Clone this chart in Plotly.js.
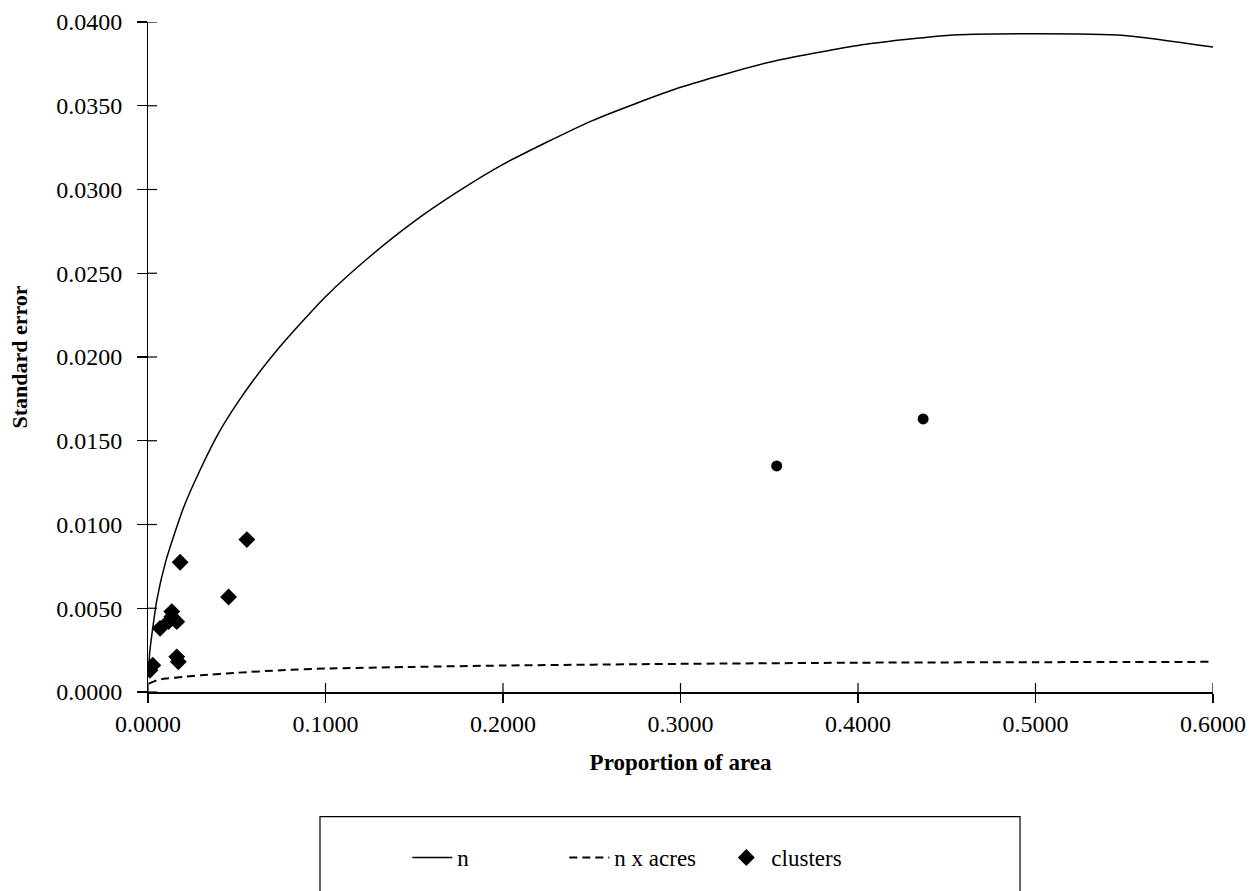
<!DOCTYPE html>
<html>
<head>
<meta charset="utf-8">
<script src="https://cdn.plot.ly/plotly-3.0.1.min.js"></script>
<style>html,body{margin:0;padding:0;background:#fff;}#chart{width:1253px;height:891px;}</style>
</head>
<body>
<div id="chart"></div>
<script>
// "n" curve
const nProp = [0.0005, 0.001, 0.005, 0.01, 0.02, 0.03, 0.04, 0.05, 0.06, 0.075, 0.1, 0.125, 0.15, 0.175, 0.2, 0.25, 0.3, 0.35, 0.4, 0.45, 0.5, 0.55, 0.6];
const nSE   = [0.0015, 0.0024, 0.0055, 0.0078, 0.0110, 0.0134, 0.0155, 0.0172, 0.0187, 0.0207, 0.0236, 0.0260, 0.0281, 0.0299, 0.0315, 0.0341, 0.0361, 0.0376, 0.0386, 0.0392, 0.0393, 0.0392, 0.0385];

// "n x acres" curve
const acresProp = [0.0005, 0.005, 0.01, 0.02, 0.03, 0.05, 0.075, 0.1, 0.15, 0.2, 0.3, 0.4, 0.5, 0.6];
const acresSE   = [0.0005, 0.0007, 0.0008, 0.0009, 0.0010, 0.00115, 0.0013, 0.0014, 0.0015, 0.00158, 0.00168, 0.00175, 0.00178, 0.0018];

// clusters
const clusterProp = [0.0557, 0.0181, 0.0454, 0.0134, 0.0068, 0.0115, 0.0162, 0.0134, 0.0162, 0.0171, 0.0027, 0.0011];
const clusterSE   = [0.0091, 0.00775, 0.00567, 0.0048, 0.0038, 0.0042, 0.0042, 0.0045, 0.0021, 0.0018, 0.0016, 0.0013];
const clusterRoundProp = [0.3542, 0.4367];
const clusterRoundSE   = [0.0135, 0.0163];

const xTicks = [0, 0.1, 0.2, 0.3, 0.4, 0.5, 0.6];
const yTicks = [0, 0.005, 0.01, 0.015, 0.02, 0.025, 0.03, 0.035, 0.04];

const serif = '"Liberation Serif", "Times New Roman", serif';

const traces = [
  {x: nProp, y: nSE, name: 'n', mode: 'lines', line: {color: '#000', width: 1.5, shape: 'spline', smoothing: 0.6}, type: 'scatter'},
  {x: acresProp, y: acresSE, name: 'n x acres', mode: 'lines', line: {color: '#000', width: 2, dash: '8px,5px', shape: 'spline', smoothing: 0.6}, type: 'scatter'},
  {x: clusterProp, y: clusterSE, name: 'clusters', mode: 'markers', marker: {symbol: 'diamond', size: 13, color: '#000'}, type: 'scatter'},
  {x: clusterRoundProp, y: clusterRoundSE, name: 'clusters', mode: 'markers', marker: {symbol: 'circle', size: 11, color: '#000'}, showlegend: false, type: 'scatter'}
];

// inner halves of the crossing tick marks (the axes draw the outer halves)
const PLOT_W = 1253 - 148 - 40, PLOT_H = 891 - 22 - 196;
const tickShapes = [];
xTicks.forEach(v => tickShapes.push({type: 'line', xref: 'x', yref: 'paper', x0: v, x1: v, y0: 0, y1: 9 / PLOT_H, line: {color: '#000', width: 1.2}}));
yTicks.forEach(v => tickShapes.push({type: 'line', xref: 'paper', yref: 'y', x0: 0, x1: 9 / PLOT_W, y0: v, y1: v, line: {color: '#000', width: 1.2}}));

const layout = {
  width: 1253, height: 891,
  margin: {l: 148, r: 40, t: 22, b: 196},
  paper_bgcolor: '#fff', plot_bgcolor: '#fff',
  font: {family: serif, color: '#000', size: 24},
  showlegend: true,
  xaxis: {
    range: [0, 0.6], tickvals: xTicks, tickformat: '.4f', showgrid: false, zeroline: false,
    ticks: 'outside', ticklen: 9, tickcolor: '#000', tickwidth: 1.2,
    showline: true, linecolor: '#000', linewidth: 2,
    tickfont: {family: serif, size: 24, color: '#000'},
    title: {text: '<b>Proportion of area</b>', font: {family: serif, size: 23, color: '#000'}, standoff: 18}
  },
  yaxis: {
    range: [0, 0.04], tickvals: yTicks, tickformat: '.4f', showgrid: false, zeroline: false,
    ticks: 'outside', ticklen: 10, tickcolor: '#000', tickwidth: 1.2,
    showline: true, linecolor: '#000', linewidth: 1,
    tickfont: {family: serif, size: 24, color: '#000'}, ticklabelstandoff: 10,
    title: {text: '<b>Standard error</b>', font: {family: serif, size: 22, color: '#000'}, standoff: 22}
  },
  legend: {
    orientation: 'h', x: 0.2435, y: -0.215, xanchor: 'left', yanchor: 'top',
    bgcolor: 'rgba(0,0,0,0)', borderwidth: 0,
    font: {family: serif, size: 23, color: '#000'},
    entrywidth: 102, entrywidthmode: 'pixels', itemwidth: 40
  },
  shapes: [
    {type: 'rect', xref: 'paper', yref: 'paper', x0: 0.1615, x1: 0.8188, y0: -0.186, y1: -0.32,
     line: {color: '#000', width: 1.2}, fillcolor: 'rgba(0,0,0,0)'}
  ].concat(tickShapes)
};

Plotly.newPlot('chart', traces, layout, {displayModeBar: false, staticPlot: true});
</script>
</body>
</html>
